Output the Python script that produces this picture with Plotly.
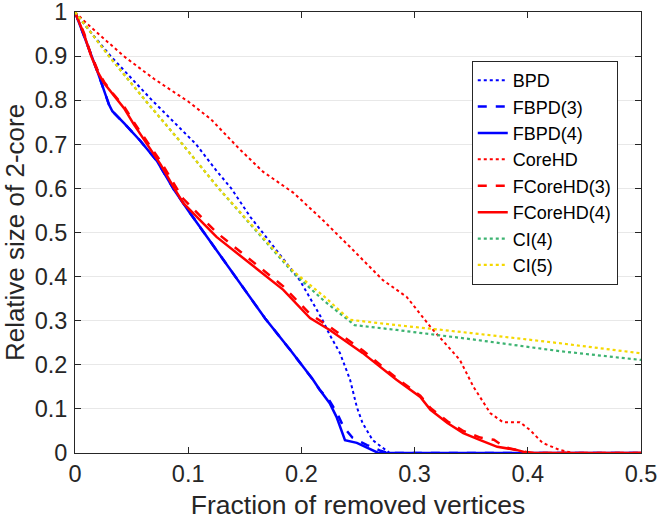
import plotly.graph_objs as go

# fraction of removed vertices / relative size of 2-core
bpd_x = [0, 0.012, 0.0315, 0.068, 0.107, 0.125, 0.138, 0.155, 0.184, 0.199, 0.218, 0.225, 0.234, 0.243, 0.249, 0.254, 0.263, 0.274, 0.278, 0.5]
bpd_y = [1, 0.96, 0.9, 0.8, 0.7, 0.64, 0.6, 0.535, 0.44, 0.39, 0.305, 0.268, 0.227, 0.166, 0.104, 0.068, 0.029, 0.007, 0, 0]

fbpd3_x = [0, 0.011, 0.0197, 0.03, 0.033, 0.0433, 0.058, 0.0727, 0.0875, 0.1, 0.125, 0.148, 0.168, 0.19, 0.21, 0.216, 0.225, 0.232, 0.237, 0.245, 0.258, 0.27, 0.276, 0.5]
fbpd3_y = [1, 0.926, 0.866, 0.79, 0.775, 0.748, 0.707, 0.661, 0.597, 0.55, 0.46, 0.376, 0.305, 0.234, 0.167, 0.144, 0.118, 0.088, 0.06, 0.035, 0.018, 0.005, 0, 0]

fbpd4_x = [0, 0.011, 0.0197, 0.03, 0.033, 0.0433, 0.058, 0.0727, 0.0875, 0.1, 0.125, 0.148, 0.168, 0.19, 0.21, 0.216, 0.225, 0.231, 0.2385, 0.249, 0.263, 0.268, 0.5]
fbpd4_y = [1, 0.926, 0.866, 0.79, 0.775, 0.748, 0.707, 0.661, 0.597, 0.55, 0.46, 0.376, 0.305, 0.234, 0.167, 0.144, 0.113, 0.082, 0.029, 0.023, 0.007, 0, 0]

corehd_x = [0, 0.01, 0.043, 0.07, 0.1, 0.12, 0.145, 0.166, 0.193, 0.219, 0.243, 0.272, 0.293, 0.314, 0.34, 0.352, 0.367, 0.378, 0.393, 0.402, 0.413, 0.428, 0.44, 0.5]
corehd_y = [1, 0.975, 0.9, 0.848, 0.797, 0.757, 0.69, 0.638, 0.59, 0.528, 0.467, 0.392, 0.354, 0.286, 0.211, 0.15, 0.09, 0.07, 0.07, 0.052, 0.023, 0.007, 0, 0]

fcorehd3_x = [0, 0.008, 0.0139, 0.0197, 0.0256, 0.0345, 0.0433, 0.052, 0.064, 0.0757, 0.0875, 0.0955, 0.125, 0.1545, 0.184, 0.2076, 0.225, 0.254, 0.284, 0.305, 0.314, 0.329, 0.343, 0.358, 0.37, 0.38, 0.395, 0.405, 0.5]
fcorehd3_y = [1, 0.952, 0.905, 0.87, 0.842, 0.812, 0.786, 0.75, 0.705, 0.661, 0.61, 0.577, 0.5, 0.44, 0.378, 0.315, 0.286, 0.233, 0.17, 0.13, 0.102, 0.072, 0.05, 0.035, 0.03, 0.013, 0.004, 0, 0]

fcorehd4_x = [0, 0.008, 0.0139, 0.0197, 0.0256, 0.0345, 0.0433, 0.052, 0.064, 0.0757, 0.0875, 0.0955, 0.125, 0.1545, 0.184, 0.2076, 0.225, 0.254, 0.284, 0.305, 0.314, 0.329, 0.343, 0.358, 0.373, 0.39, 0.4, 0.5]
fcorehd4_y = [1, 0.949, 0.903, 0.866, 0.839, 0.809, 0.782, 0.745, 0.699, 0.654, 0.601, 0.567, 0.49, 0.431, 0.37, 0.306, 0.279, 0.227, 0.166, 0.127, 0.098, 0.068, 0.045, 0.029, 0.014, 0.007, 0, 0]

ci4_x = [0, 0.03, 0.062, 0.095, 0.127, 0.16, 0.193, 0.22, 0.247, 0.284, 0.35, 0.428, 0.5]
ci4_y = [1, 0.9, 0.8, 0.7, 0.6, 0.503, 0.408, 0.345, 0.29, 0.279, 0.258, 0.231, 0.211]

ci5_x = [0, 0.03, 0.062, 0.095, 0.127, 0.16, 0.193, 0.22, 0.243, 0.284, 0.35, 0.428, 0.5]
ci5_y = [1, 0.9, 0.8, 0.7, 0.6, 0.505, 0.412, 0.355, 0.302, 0.29, 0.272, 0.249, 0.226]

names = ["BPD", "FBPD(3)", "FBPD(4)", "CoreHD", "FCoreHD(3)", "FCoreHD(4)", "CI(4)", "CI(5)"]
xs = [bpd_x, fbpd3_x, fbpd4_x, corehd_x, fcorehd3_x, fcorehd4_x, ci4_x, ci5_x]
ys = [bpd_y, fbpd3_y, fbpd4_y, corehd_y, fcorehd3_y, fcorehd4_y, ci4_y, ci5_y]
colors = ["#0000ff", "#0000ff", "#0000ff", "#ff0000", "#ff0000", "#ff0000", "#3cb371", "#f5d800"]
dashes = ["dot", "dash", "solid", "dot", "dash", "solid", "dot", "dot"]
widths = [2, 2.5, 2.5, 2, 2.5, 2.5, 2.2, 2.2]

traces = []
for i in range(len(names)):
    traces.append(go.Scatter(x=xs[i], y=ys[i], name=names[i], mode="lines",
                             line=dict(color=colors[i], dash=dashes[i], width=widths[i])))

font = "Liberation Sans, Arial, Helvetica, sans-serif"
axcol = "#262626"

layout = go.Layout(
    width=659, height=520,
    margin=dict(l=75, r=18, t=12, b=67),
    paper_bgcolor="white", plot_bgcolor="white",
    font=dict(family=font, color=axcol),
    xaxis=dict(range=[0, 0.5], tickvals=[0, 0.1, 0.2, 0.3, 0.4, 0.5],
               ticktext=["0", "0.1", "0.2", "0.3", "0.4", "0.5"],
               ticks="inside", ticklen=6, tickcolor=axcol, mirror="ticks",
               showline=True, linecolor=axcol, linewidth=1, automargin=False,
               ticklabeloverflow="allow",
               showgrid=False, zeroline=False, tickfont=dict(size=23.5),
               title=dict(text="Fraction of removed vertices", font=dict(size=26.5), standoff=9)),
    yaxis=dict(range=[0, 1], tickvals=[0, 0.1, 0.2, 0.3, 0.4, 0.5, 0.6, 0.7, 0.8, 0.9, 1],
               ticktext=["0", "0.1", "0.2", "0.3", "0.4", "0.5", "0.6", "0.7", "0.8", "0.9", "1"],
               ticks="inside", ticklen=6, tickcolor=axcol, mirror="ticks",
               showline=True, linecolor=axcol, linewidth=1, ticklabelstandoff=2, automargin=False,
               ticklabeloverflow="allow",
               showgrid=True, gridcolor="#e8e8e8", zeroline=False, tickfont=dict(size=23.5),
               title=dict(text="Relative size of 2-core", font=dict(size=26), standoff=6)),
    legend=dict(x=0.701, y=0.889, xanchor="left", yanchor="top",
                bgcolor="white", bordercolor=axcol, borderwidth=1,
                font=dict(size=18, color="black"), tracegroupgap=0),
    showlegend=True,
)

fig = go.Figure(data=traces, layout=layout)
# drop the default 8px body margin so the figure fills the window
fig.write_html("out.html", config={"displayModeBar": False},
               post_script="document.body.style.margin='0';")
